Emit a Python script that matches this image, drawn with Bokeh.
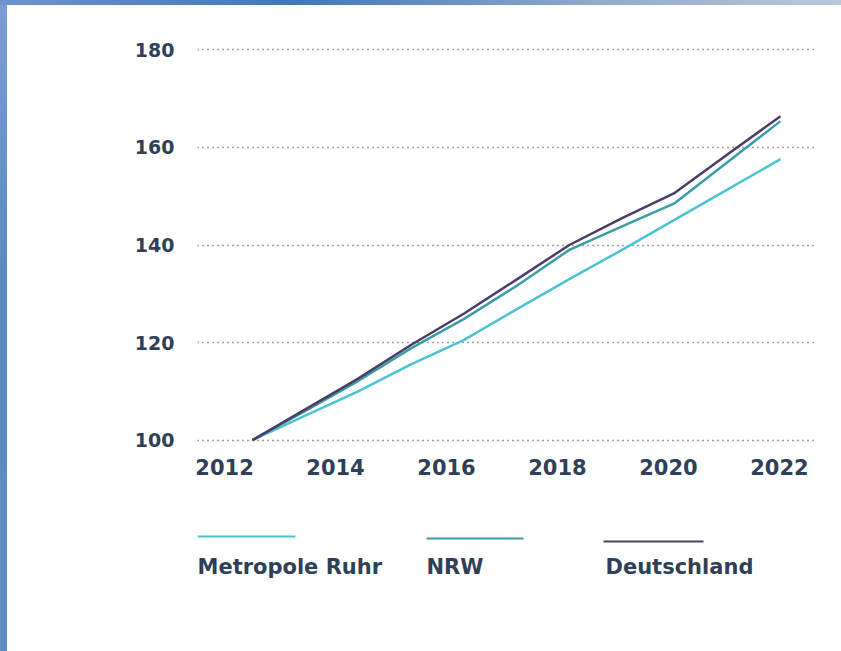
from bokeh.plotting import figure
from bokeh.layouts import column
from bokeh.models import Range1d, FixedTicker
from bokeh.core.properties import value
from bokeh.embed import file_html
from bokeh.resources import INLINE

# ---- data -------------------------------------------------------------
years = [2012, 2013, 2014, 2015, 2016, 2017, 2018, 2019, 2020, 2021, 2022]
metropole_ruhr = [100, 105.0, 110.0, 115.5, 120.5, 126.8, 133.0, 139.0, 145.2, 151.4, 157.6]
nrw = [100, 106.0, 112.1, 118.8, 124.8, 131.6, 139.0, 143.8, 148.6, 157.0, 165.4]
deutschland = [100, 106.3, 112.6, 119.5, 125.9, 132.9, 140.0, 145.5, 150.7, 158.6, 166.4]

series_names = ["Metropole Ruhr", "NRW", "Deutschland"]
series_values = [metropole_ruhr, nrw, deutschland]
y_ticks = [100, 120, 140, 160, 180]
x_tick_labels = ["2012", "2014", "2016", "2018", "2020", "2022"]

# ---- style ------------------------------------------------------------
colors = ["#4cc3d2", "#3a9ea4", "#4b3c69"]
text_color = "#2f3f58"
font = "DejaVu Sans"

W = 833
H_MAIN = 503
H_LEG = 143
BL, BR = 189, 26

p = figure(width=W, height=H_MAIN, output_backend="svg", toolbar_location=None,
           x_range=Range1d(2010.958, 2022.663), y_range=Range1d(99.5, 180.5),
           min_border_left=BL, min_border_right=BR, min_border_top=42,
           min_border_bottom=66)
p.outline_line_color = None
p.background_fill_color = "white"
p.border_fill_color = "white"

for vals, col in zip(series_values, colors):
    p.line(years, vals, line_color=col, line_width=2.5, line_join="round")

# y axis
p.yaxis.ticker = FixedTicker(ticks=y_ticks)
p.yaxis.axis_line_color = None
p.yaxis.major_tick_line_color = None
p.yaxis.minor_tick_line_color = None
p.yaxis.major_label_standoff = 17
p.yaxis.major_label_text_font = font
p.yaxis.major_label_text_font_style = "bold"
p.yaxis.major_label_text_font_size = "19px"
p.yaxis.major_label_text_color = text_color

# x axis: label slots as placed in the source graphic
x_tick_pos = [2011.47 + 2.102 * i for i in range(len(x_tick_labels))]
p.xaxis.ticker = FixedTicker(ticks=x_tick_pos)
p.xaxis.major_label_overrides = {t: lab for t, lab in zip(x_tick_pos, x_tick_labels)}
p.xaxis.axis_line_color = None
p.xaxis.major_tick_line_color = None
p.xaxis.minor_tick_line_color = None
p.xaxis.major_label_standoff = 10
p.xaxis.major_label_text_font = font
p.xaxis.major_label_text_font_style = "bold"
p.xaxis.major_label_text_font_size = "21px"
p.xaxis.major_label_text_color = text_color

p.xgrid.grid_line_color = None
p.ygrid.ticker = FixedTicker(ticks=y_ticks)
p.ygrid.grid_line_color = "#333333"
p.ygrid.grid_line_width = 1.7
p.ygrid.grid_line_dash = "1 4"
p.ygrid.grid_line_alpha = 0.9

# ---- legend (line above label), frame aligned with the chart ----------
leg = figure(width=W, height=H_LEG, output_backend="svg", toolbar_location=None,
             x_range=Range1d(197, 815), y_range=Range1d(H_LEG, 0),
             min_border_left=BL, min_border_right=BR,
             min_border_top=0, min_border_bottom=0)
leg.outline_line_color = None
leg.axis.visible = False
leg.grid.visible = False
leg.border_fill_color = "white"
leg.background_fill_color = "white"

leg_x0 = [197, 426, 603]
leg_x1 = [295, 523, 703]
leg_ly = [28, 30, 33]
leg_tx = [197, 426, 605]
leg.segment(x0=leg_x0, y0=leg_ly, x1=leg_x1, y1=leg_ly, line_color=colors, line_width=2)
leg.text(x=leg_tx, y=[58, 58, 58], text=series_names, text_font=value(font),
         text_font_style="bold", text_font_size="21px", text_color=text_color,
         text_baseline="alphabetic", text_align="left")

layout = column(p, leg, spacing=0)

html = file_html(layout, INLINE)
style = ("<style>html{background:"
         "linear-gradient(to right,#6f93cc,#3f78b8 35%,#8fa8cc 70%,#b9c8dc) 0 0/100% 5px no-repeat,"
         "linear-gradient(#7f9dd2,#5b8ac4 40%,#5d8cc4) 0 0/7px 100% no-repeat,#ffffff;}"
         "body{padding:5px 0 0 8px !important;}</style>")
html = html.replace("</head>", style + "</head>", 1)
open("out.html", "w").write(html)
